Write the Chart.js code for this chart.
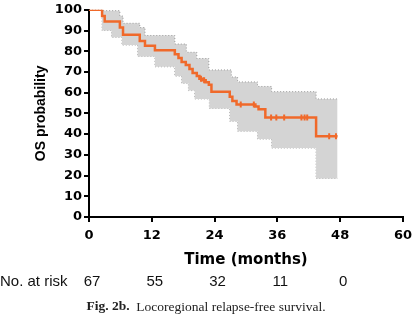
<!DOCTYPE html>
<html>
<head>
<meta charset="utf-8">
<script src="https://cdn.jsdelivr.net/npm/chart.js@4.4.1/dist/chart.umd.min.js"></script>
<style>
  html, body { margin: 0; padding: 0; background: #fff; }
  #wrap { width: 418px; height: 329px; position: relative; }
</style>
</head>
<body>
<div id="wrap"><canvas id="km"></canvas></div>
<script>
// Kaplan-Meier curve (months, % surviving)
const kmTimes = [0, 2.5, 3.0, 5.9, 6.5, 9.7, 10.7, 12.6, 16.4, 17.1, 17.7, 18.5, 19.2, 19.8, 20.6, 21.1, 21.7, 22.3, 22.9, 23.4, 26.9, 27.4, 28.2, 31.8, 32.4, 33.7, 43.4, 47.5];
const kmValues = [100, 97, 94.3, 91.4, 88, 85, 82.7, 80.5, 78.6, 76.7, 74.8, 73.3, 71.4, 69.5, 68, 66.7, 66, 65, 63.8, 60.5, 58, 56, 54.3, 53.3, 52, 48, 39, 39];

// censored observations
const censorTimes = [21.4, 22.0, 29.0, 31.5, 34.8, 35.8, 37.3, 40.6, 41.2, 41.7, 45.9, 47.2];
const censorValues = [66.7, 66, 54.3, 54.3, 48, 48, 48, 48, 48, 48, 39, 39];

// 95% confidence band
const bandTimes = [0, 2.5, 4.3, 5.9, 6.3, 6.5, 9.3, 9.7, 10.7, 12.6, 16.4, 17.7, 18.6, 19.0, 20.2, 20.6, 22.9, 23.0, 26.9, 27.2, 28.4, 32.2, 34.9, 43.4, 47.5];
const bandUpper = [100, 99.6, 99.6, 97, 97, 93.5, 93.5, 91.4, 87.6, 87.6, 83.5, 83.5, 79.5, 79.5, 79.5, 76.5, 71, 71, 71, 67.6, 65.2, 63, 60.5, 57, 57];
const bandLower = [100, 90, 86.7, 86.7, 83, 83, 77.5, 77.5, 77.5, 72.5, 68, 64.5, 64.5, 61, 57, 57, 57, 52.4, 46.2, 46.2, 41.4, 37.6, 33.3, 18.6, 18.6];

// axis ticks and number at risk
const xTicks = [0, 12, 24, 36, 48, 60];
const riskTimes = [0, 12, 24, 36, 48];
const riskCounts = [67, 55, 32, 11, 0];

const toPoints = (xs, ys) => xs.map((x, i) => ({ x: x, y: ys[i] }));

const orange = '#f0692a';
const tickFont = { family: 'DejaVu Sans', size: 13, weight: 'bold' };

// texto de "No. at risk" y pie de figura
const extraText = {
    id: 'extraText',
    afterDraw(chart) {
        const ctx = chart.ctx;
        const xs = chart.scales.x;
        ctx.save();
        ctx.fillStyle = '#111';
        ctx.textBaseline = 'middle';
        ctx.font = '15px "Liberation Sans"';
        ctx.textAlign = 'left';
        ctx.fillText('No. at risk', 0, 282);
        ctx.textAlign = 'center';
        riskTimes.forEach((t, i) => {
            ctx.fillText(String(riskCounts[i]), xs.getPixelForValue(t) + 3, 282);
        });

        const boldPart = 'Fig. 2b.';
        const restPart = '  Locoregional relapse-free survival.';
        ctx.font = 'bold 13.5px "Liberation Serif"';
        const w1 = ctx.measureText(boldPart).width;
        ctx.font = '13.5px "Liberation Serif"';
        const w2 = ctx.measureText(restPart).width;
        const startX = 206 - (w1 + w2) / 2;
        ctx.textAlign = 'left';
        ctx.fillStyle = '#222';
        ctx.font = 'bold 13.5px "Liberation Serif"';
        ctx.fillText(boldPart, startX, 307);
        ctx.font = '13.5px "Liberation Serif"';
        ctx.fillText(restPart, startX + w1, 307);
        ctx.restore();
    }
};

new Chart(document.getElementById('km'), {
    type: 'line',
    data: {
        datasets: [
            {
                label: 'upper',
                data: toPoints(bandTimes, bandUpper),
                stepped: 'before',
                borderColor: '#9a9a9a',
                borderWidth: 1,
                borderDash: [1, 2],
                backgroundColor: '#d4d4d4',
                fill: '+1',
                pointRadius: 0,
                order: 3
            },
            {
                label: 'lower',
                data: toPoints(bandTimes, bandLower),
                stepped: 'before',
                borderColor: '#9a9a9a',
                borderWidth: 1,
                borderDash: [1, 2],
                fill: false,
                pointRadius: 0,
                order: 3
            },
            {
                label: 'OS',
                data: toPoints(kmTimes, kmValues),
                stepped: 'before',
                borderColor: orange,
                borderWidth: 2.5,
                fill: false,
                pointRadius: 0,
                order: 1
            },
            {
                label: 'censored',
                type: 'scatter',
                data: toPoints(censorTimes, censorValues),
                pointStyle: 'line',
                rotation: 90,
                radius: 3,
                borderColor: orange,
                borderWidth: 2,
                order: 0
            }
        ]
    },
    options: {
        responsive: true,
        maintainAspectRatio: false,
        animation: false,
        layout: { padding: { top: 7, right: 15, left: 0, bottom: 0 } },
        plugins: {
            legend: { display: false },
            tooltip: { enabled: false }
        },
        scales: {
            x: {
                type: 'linear',
                min: 0,
                max: 60,
                afterFit: (scale) => { scale.height = 112; },
                afterBuildTicks: (scale) => { scale.ticks = xTicks.map(v => ({ value: v })); },
                ticks: { font: tickFont, color: '#000', padding: 6, maxRotation: 0 },
                grid: { drawOnChartArea: false, drawTicks: true, tickLength: 5, color: '#000', lineWidth: 2 },
                border: { display: true, color: '#000', width: 2 },
                title: {
                    display: true,
                    text: 'Time (months)',
                    color: '#000',
                    font: { family: 'DejaVu Sans', size: 15, weight: 'bold' },
                    padding: { top: 0, bottom: 60 }
                }
            },
            y: {
                min: 0,
                max: 100,
                afterFit: (scale) => { scale.width = 89; },
                ticks: { stepSize: 10, font: tickFont, color: '#000', padding: 2 },
                grid: { drawOnChartArea: false, drawTicks: true, tickLength: 5, color: '#000', lineWidth: 2 },
                border: { display: true, color: '#000', width: 2 },
                title: {
                    display: true,
                    text: 'OS probability',
                    color: '#000',
                    font: { family: 'Liberation Sans', size: 14, weight: 'bold' },
                    padding: { top: 33, bottom: 0 }
                }
            }
        }
    },
    plugins: [extraText]
});
</script>
</body>
</html>
